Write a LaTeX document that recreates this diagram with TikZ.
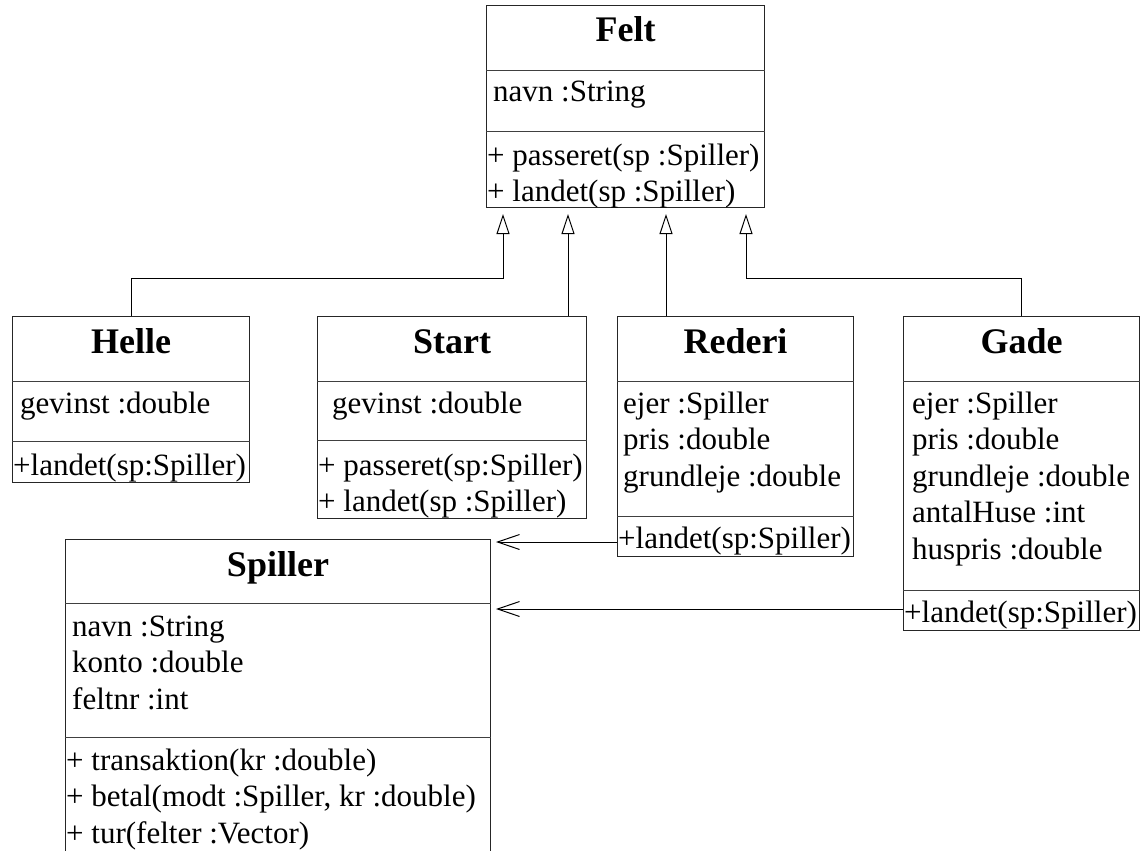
\documentclass[tikz,border=0pt]{standalone}
\usepackage{fontspec}
\setmainfont{Liberation Serif}
\usetikzlibrary{arrows.meta,calc}

\tikzset{
  classbox/.style={draw=black!85, line width=1pt, inner sep=0pt, anchor=north west},
  sepline/.style={draw=black!75, line width=0.9pt},
  classname/.style={font=\fontsize{36}{40}\selectfont\bfseries, anchor=base, inner sep=0pt},
  member/.style={font=\fontsize{31}{36}\selectfont, anchor=base west, inner sep=0pt},
  inherit/.style={draw=black, line width=1pt, -{Triangle[open,length=20pt,width=13pt]}, shorten >=6pt},
  assoc/.style={draw=black, line width=1pt, -{Straight Barb[length=22pt,width=15pt]}, shorten >=5pt},
}

\begin{document}
\begin{tikzpicture}[x=1pt, y=-1pt]
  \clip (0,0) rectangle (1141,851);
  \fill[white] (0,0) rectangle (1141,851);

  % ---------------- Felt ----------------
  \node[classbox, minimum width=278pt, minimum height=202pt] (Felt) at (486,5) {};
  \draw[sepline] ($(Felt.north west)+(0,65)$) -- ($(Felt.north east)+(0,65)$);
  \draw[sepline] ($(Felt.north west)+(0,126)$) -- ($(Felt.north east)+(0,126)$);
  \node[classname] (Felt-name) at ($(Felt.north)+(0,37)$) {Felt};
  \node[member] (Felt-navn) at ($(Felt.north west)+(7,97)$) {navn :String};
  \node[member] (Felt-passeret) at ($(Felt.north west)+(1,160)$) {+ passeret(sp :Spiller)};
  \node[member] (Felt-landet) at ($(Felt.north west)+(1,196)$) {+ landet(sp :Spiller)};

  % ---------------- Helle ----------------
  \node[classbox, minimum width=237pt, minimum height=166pt] (Helle) at (12,316) {};
  \draw[sepline] ($(Helle.north west)+(0,65)$) -- ($(Helle.north east)+(0,65)$);
  \draw[sepline] ($(Helle.north west)+(0,125)$) -- ($(Helle.north east)+(0,125)$);
  \node[classname] (Helle-name) at ($(Helle.north)+(0,37)$) {Helle};
  \node[member] (Helle-gevinst) at ($(Helle.north west)+(8,97)$) {gevinst :double};
  \node[member] (Helle-landet) at ($(Helle.north west)+(1,159)$) {+landet(sp:Spiller)};

  % ---------------- Start ----------------
  \node[classbox, minimum width=269pt, minimum height=202pt] (Start) at (317,316) {};
  \draw[sepline] ($(Start.north west)+(0,65)$) -- ($(Start.north east)+(0,65)$);
  \draw[sepline] ($(Start.north west)+(0,124)$) -- ($(Start.north east)+(0,124)$);
  \node[classname] (Start-name) at ($(Start.north)+(0,37)$) {Start};
  \node[member] (Start-gevinst) at ($(Start.north west)+(15,97)$) {gevinst :double};
  \node[member] (Start-passeret) at ($(Start.north west)+(1,159)$) {+ passeret(sp:Spiller)};
  \node[member] (Start-landet) at ($(Start.north west)+(1,195)$) {+ landet(sp :Spiller)};

  % ---------------- Rederi ----------------
  \node[classbox, minimum width=236pt, minimum height=240pt] (Rederi) at (617,316) {};
  \draw[sepline] ($(Rederi.north west)+(0,65)$) -- ($(Rederi.north east)+(0,65)$);
  \draw[sepline] ($(Rederi.north west)+(0,200)$) -- ($(Rederi.north east)+(0,200)$);
  \node[classname] (Rederi-name) at ($(Rederi.north)+(0,37)$) {Rederi};
  \node[member] (Rederi-ejer) at ($(Rederi.north west)+(6,97)$) {ejer :Spiller};
  \node[member] (Rederi-pris) at ($(Rederi.north west)+(6,133.5)$) {pris :double};
  \node[member] (Rederi-grundleje) at ($(Rederi.north west)+(6,170)$) {grundleje :double};
  \node[member] (Rederi-landet) at ($(Rederi.north west)+(1,232)$) {+landet(sp:Spiller)};

  % ---------------- Gade ----------------
  \node[classbox, minimum width=236pt, minimum height=314pt] (Gade) at (903,316) {};
  \draw[sepline] ($(Gade.north west)+(0,65)$) -- ($(Gade.north east)+(0,65)$);
  \draw[sepline] ($(Gade.north west)+(0,274)$) -- ($(Gade.north east)+(0,274)$);
  \node[classname] (Gade-name) at ($(Gade.north)+(0,37)$) {Gade};
  \node[member] (Gade-ejer) at ($(Gade.north west)+(9,97)$) {ejer :Spiller};
  \node[member] (Gade-pris) at ($(Gade.north west)+(9,133.5)$) {pris :double};
  \node[member] (Gade-grundleje) at ($(Gade.north west)+(9,170)$) {grundleje :double};
  \node[member] (Gade-antalHuse) at ($(Gade.north west)+(9,206.5)$) {antalHuse :int};
  \node[member] (Gade-huspris) at ($(Gade.north west)+(9,243)$) {huspris :double};
  \node[member] (Gade-landet) at ($(Gade.north west)+(1,306)$) {+landet(sp:Spiller)};

  % ---------------- Spiller (runs past the lower edge) ----------------
  \node[classbox, minimum width=425pt, minimum height=330pt] (Spiller) at (65,539) {};
  \draw[sepline] ($(Spiller.north west)+(0,64)$) -- ($(Spiller.north east)+(0,64)$);
  \draw[sepline] ($(Spiller.north west)+(0,198)$) -- ($(Spiller.north east)+(0,198)$);
  \node[classname] (Spiller-name) at ($(Spiller.north)+(0,37)$) {Spiller};
  \node[member] (Spiller-navn) at ($(Spiller.north west)+(7,97)$) {navn :String};
  \node[member] (Spiller-konto) at ($(Spiller.north west)+(7,133.5)$) {konto :double};
  \node[member] (Spiller-feltnr) at ($(Spiller.north west)+(7,170)$) {feltnr :int};
  \node[member] (Spiller-transaktion) at ($(Spiller.north west)+(1,231)$) {+ transaktion(kr :double)};
  \node[member] (Spiller-betal) at ($(Spiller.north west)+(1,267.5)$) {+ betal(modt :Spiller, kr :double)};
  \node[member] (Spiller-tur) at ($(Spiller.north west)+(1,304)$) {+ tur(felter :Vector)};

  % ---------------- generalisations to Felt ----------------
  \coordinate (g1) at ($(Felt.south west)+(17,0)$);
  \coordinate (g2) at ($(Felt.south west)+(82,0)$);
  \coordinate (g3) at ($(Felt.south west)+(180,0)$);
  \coordinate (g4) at ($(Felt.south west)+(260,0)$);
  \draw[inherit] (Helle.north) -- ++(0,-38) -| (g1);
  \draw[inherit] (Start.north -| g2) -- (g2);
  \draw[inherit] (Rederi.north -| g3) -- (g3);
  \draw[inherit] (Gade.north) -- ++(0,-38) -| (g4);

  % ---------------- associations to Spiller ----------------
  \coordinate (r1) at ($(Rederi.south west)+(0,-15)$);
  \coordinate (r2) at ($(Gade.south west)+(0,-22)$);
  \draw[assoc] (r1) -- (r1 -| Spiller.east);
  \draw[assoc] (r2) -- (r2 -| Spiller.east);
\end{tikzpicture}
\end{document}
